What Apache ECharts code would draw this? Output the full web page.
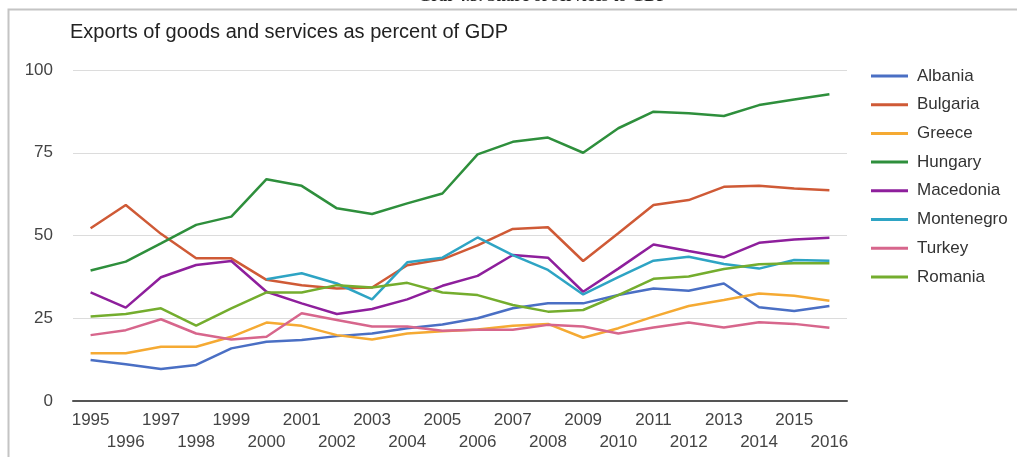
<!DOCTYPE html>
<html>
<head>
<meta charset="utf-8">
<script src="https://cdn.jsdelivr.net/npm/echarts@6/dist/echarts.min.js"></script>
<style>
html,body{margin:0;padding:0;background:#fff;}
#chart{width:1017px;height:457px;}
</style>
</head>
<body>
<div id="chart"></div>
<script>
const years = ['1995','1996','1997','1998','1999','2000','2001','2002','2003','2004','2005','2006','2007','2008','2009','2010','2011','2012','2013','2014','2015','2016'];
const yTicks = [0, 25, 50, 75, 100];

const albania    = [12.4, 11.1, 9.7, 10.9, 15.9, 17.9, 18.4, 19.6, 20.4, 22.0, 23.1, 25.0, 28.0, 29.5, 29.5, 32.0, 34.0, 33.3, 35.5, 28.3, 27.2, 28.7];
const bulgaria   = [52.2, 59.2, 50.5, 43.1, 43.1, 36.6, 35.0, 34.0, 34.3, 41.0, 42.8, 47.0, 52.0, 52.5, 42.3, 50.7, 59.2, 60.7, 64.7, 65.0, 64.2, 63.7];
const greece     = [14.4, 14.4, 16.4, 16.4, 19.4, 23.7, 22.7, 19.9, 18.6, 20.4, 21.1, 21.6, 22.7, 23.3, 19.1, 22.0, 25.5, 28.7, 30.5, 32.5, 31.8, 30.3];
const hungary    = [39.4, 42.1, 47.6, 53.2, 55.7, 67.0, 65.0, 58.2, 56.5, 59.7, 62.7, 74.5, 78.3, 79.6, 75.0, 82.4, 87.4, 86.9, 86.1, 89.4, 91.1, 92.7];
const macedonia  = [32.8, 28.2, 37.4, 41.1, 42.3, 33.0, 29.5, 26.3, 27.8, 30.7, 34.8, 37.8, 44.1, 43.3, 33.0, 40.0, 47.3, 45.3, 43.4, 47.8, 48.8, 49.3];
const montenegro = [null, null, null, null, null, 36.8, 38.6, 35.5, 30.7, 41.9, 43.3, 49.4, 44.1, 39.6, 32.2, 37.4, 42.4, 43.6, 41.4, 40.0, 42.6, 42.4];
const turkey     = [19.9, 21.4, 24.7, 20.4, 18.6, 19.4, 26.5, 24.5, 22.5, 22.5, 21.2, 21.5, 21.5, 23.0, 22.5, 20.4, 22.2, 23.7, 22.2, 23.8, 23.3, 22.1];
const romania    = [25.5, 26.3, 28.0, 22.8, 28.0, 32.8, 32.8, 35.0, 34.3, 35.7, 32.8, 32.0, 29.0, 27.0, 27.5, 32.0, 36.9, 37.6, 39.9, 41.3, 41.6, 41.6];

const seriesNames = ['Albania','Bulgaria','Greece','Hungary','Macedonia','Montenegro','Turkey','Romania'];
const seriesData = [albania, bulgaria, greece, hungary, macedonia, montenegro, turkey, romania];
const colors = ['#4a6fc4','#cf5a36','#f5aa33','#2e8f3c','#8e1f9c','#2ea4c4','#d7668c','#74ad2e'];

const chart = echarts.init(document.getElementById('chart'));
chart.setOption({
  animation: false,
  color: colors,
  textStyle: { fontFamily: 'Liberation Sans, Arial, sans-serif' },
  graphic: [
    { type: 'rect', shape: { x: 8.5, y: 9.5, width: 1030, height: 470 },
      style: { fill: 'none', stroke: '#c4c4c4', lineWidth: 2 } },
    { type: 'text', left: 418, top: -12,
      style: { text: 'Graf 4.3. Share of services to GDP', font: 'bold 17px "Liberation Serif", serif', fill: '#222' } },
    { type: 'text', left: 70, top: 22,
      style: { text: 'Exports of goods and services as percent of GDP', font: '20px "Liberation Sans", Arial, sans-serif', fill: '#222' } }
  ],
  grid: { left: 73, right: 170, top: 70, bottom: 56, containLabel: false },
  legend: {
    orient: 'vertical', left: 866, top: 61,
    icon: 'rect', itemWidth: 37, itemHeight: 3, itemGap: 8.7,
    data: seriesNames,
    textStyle: { fontSize: 17, color: '#333', lineHeight: 20, padding: [0, 0, 0, 4] }
  },
  xAxis: {
    type: 'category', data: years, boundaryGap: true,
    axisLine: { lineStyle: { color: '#555', width: 2 } },
    axisTick: { show: false },
    axisLabel: {
      interval: 0, fontSize: 17, color: '#444', lineHeight: 22, margin: 8,
      formatter: function (v, i) { return i % 2 === 0 ? v : '\n' + v; }
    }
  },
  yAxis: {
    type: 'value', min: yTicks[0], max: yTicks[yTicks.length - 1], interval: 25,
    axisLine: { show: false }, axisTick: { show: false },
    axisLabel: { fontSize: 17, color: '#444', margin: 20 },
    splitLine: { lineStyle: { color: '#dcdcdc', width: 1 } }
  },
  series: seriesNames.map((n, i) => ({
    name: n, type: 'line', data: seriesData[i], showSymbol: false, symbol: 'none',
    lineStyle: { width: 2.5, color: colors[i] }, itemStyle: { color: colors[i] },
    connectNulls: false
  }))
});
</script>
</body>
</html>
